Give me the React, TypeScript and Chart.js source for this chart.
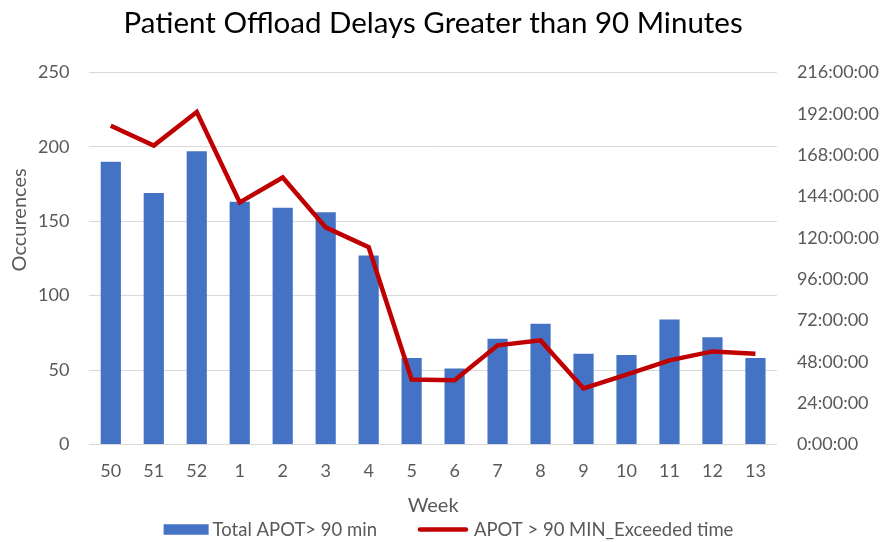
import React, { useEffect, useRef } from "react";
import { Chart, registerables } from "chart.js";

Chart.register(...registerables);

const weeks = ["50", "51", "52", "1", "2", "3", "4", "5", "6", "7", "8", "9", "10", "11", "12", "13"];
const totalApot = [190, 169, 197, 163, 159, 156, 127, 58, 51, 71, 81, 61, 60, 84, 72, 58];
const exceededHours = [185, 173.5, 193, 140.5, 155, 126, 114.5, 37.7, 37.2, 57.5, 60.4, 32.5, 40.5, 48.8, 54, 52.7];
const rightTicksHours = [0, 24, 48, 72, 96, 120, 144, 168, 192, 216];

const BAR_LABEL = "Total APOT> 90 min";
const LINE_LABEL = "APOT > 90 MIN_Exceeded time";
const Y_TITLE = "Occurences";
const BAR_COLOR = "#4472c4";
const LINE_COLOR = "#c00000";

const FONT = "Lato, 'Open Sans', sans-serif";
const TXT = "#595959";

const legendPlugin = {
  id: "customLegend",
  afterDraw(chart: any) {
    const ctx = chart.ctx as CanvasRenderingContext2D;
    ctx.save();
    ctx.font = `18.5px ${FONT}`;
    ctx.textBaseline = "middle";
    ctx.textAlign = "left";
    const w1 = ctx.measureText(BAR_LABEL).width;
    const w2 = ctx.measureText(LINE_LABEL).width;
    const boxW = 45, lineW = 50, gapText1 = 4, gapItems = 41, gapText2 = 6;
    const total = boxW + gapText1 + w1 + gapItems + lineW + gapText2 + w2;
    let x = chart.width / 2 + 7 - total / 2;
    const y = chart.height - 12.5;
    ctx.fillStyle = BAR_COLOR;
    ctx.fillRect(x, y - 5.25, boxW, 10.5);
    x += boxW + gapText1;
    ctx.fillStyle = TXT;
    ctx.fillText(BAR_LABEL, x, y + 1);
    x += w1 + gapItems;
    ctx.strokeStyle = LINE_COLOR;
    ctx.lineWidth = 4.5;
    ctx.lineCap = "round";
    ctx.beginPath();
    ctx.moveTo(x + 2, y);
    ctx.lineTo(x + lineW - 2, y);
    ctx.stroke();
    x += lineW + gapText2;
    ctx.fillStyle = TXT;
    ctx.fillText(LINE_LABEL, x, y + 1);

    // y-axis title (placed above centre, as in the original)
    const area = chart.chartArea;
    ctx.save();
    ctx.translate(20, (area.top + area.bottom) / 2 - 38.5);
    ctx.rotate(-Math.PI / 2);
    ctx.font = `20px ${FONT}`;
    ctx.fillStyle = TXT;
    ctx.textAlign = "center";
    ctx.textBaseline = "middle";
    ctx.fillText(Y_TITLE, 0, 0);
    ctx.restore();
    ctx.restore();
  },
};

export default function App() {
  const ref = useRef<HTMLCanvasElement | null>(null);
  useEffect(() => {
    if (!ref.current) return;
    const chart = new Chart(ref.current, {
      data: {
        labels: weeks,
        datasets: [
          {
            type: "line",
            label: LINE_LABEL,
            data: exceededHours,
            yAxisID: "y1",
            borderColor: LINE_COLOR,
            backgroundColor: LINE_COLOR,
            borderWidth: 4.5,
            borderJoinStyle: "miter",
            pointRadius: 0,
            tension: 0,
            order: 0,
          },
          {
            type: "bar",
            label: BAR_LABEL,
            data: totalApot,
            yAxisID: "y",
            backgroundColor: BAR_COLOR,
            barPercentage: 0.47,
            categoryPercentage: 1,
            order: 1,
          },
        ],
      },
      options: {
        animation: false,
        responsive: false,
        maintainAspectRatio: false,
        layout: { padding: { left: 38, right: 4, top: 6, bottom: 24 } },
        plugins: {
          title: {
            display: true,
            fullSize: false,
            text: "Patient Offload Delays Greater than 90 Minutes",
            color: "#000",
            font: { family: FONT, size: 29.5, weight: "normal" },
            padding: { top: 0, bottom: 31 },
          },
          legend: { display: false },
          tooltip: { enabled: false },
        },
        scales: {
          x: {
            grid: { display: false, drawTicks: true, tickLength: 16, tickColor: "transparent" },
            border: { display: false },
            ticks: { color: TXT, font: { family: FONT, size: 18 }, padding: 0, maxRotation: 0 },
            title: { display: true, text: "Week", color: TXT, font: { family: FONT, size: 20 }, padding: { top: 12, bottom: 0 } },
          },
          y: {
            position: "left",
            min: 0,
            max: 250,
            ticks: { stepSize: 50, color: TXT, font: { family: FONT, size: 18 }, padding: 0 },
            grid: { color: "#d9d9d9", lineWidth: 1, drawTicks: true, tickLength: 20, tickColor: "transparent" },
            border: { display: false },
          },
          y1: {
            position: "right",
            min: 0,
            max: 216,
            afterBuildTicks: (axis: any) => {
              axis.ticks = rightTicksHours.map((v) => ({ value: v }));
            },
            ticks: {
              color: TXT,
              font: { family: FONT, size: 18 },
              padding: 0,
              callback: (v: any) => `${v}:00:00`,
            },
            grid: { display: false, drawTicks: true, tickLength: 20, tickColor: "transparent" },
            border: { display: false },
          },
        },
      },
      plugins: [legendPlugin],
    });
    return () => chart.destroy();
  }, []);
  return (
    <div style={{ position: "fixed", left: 0, top: 0, width: 883, height: 542, background: "#fff" }}>
      <canvas ref={ref} width={883} height={542} style={{ width: 883, height: 542 }} />
    </div>
  );
}
